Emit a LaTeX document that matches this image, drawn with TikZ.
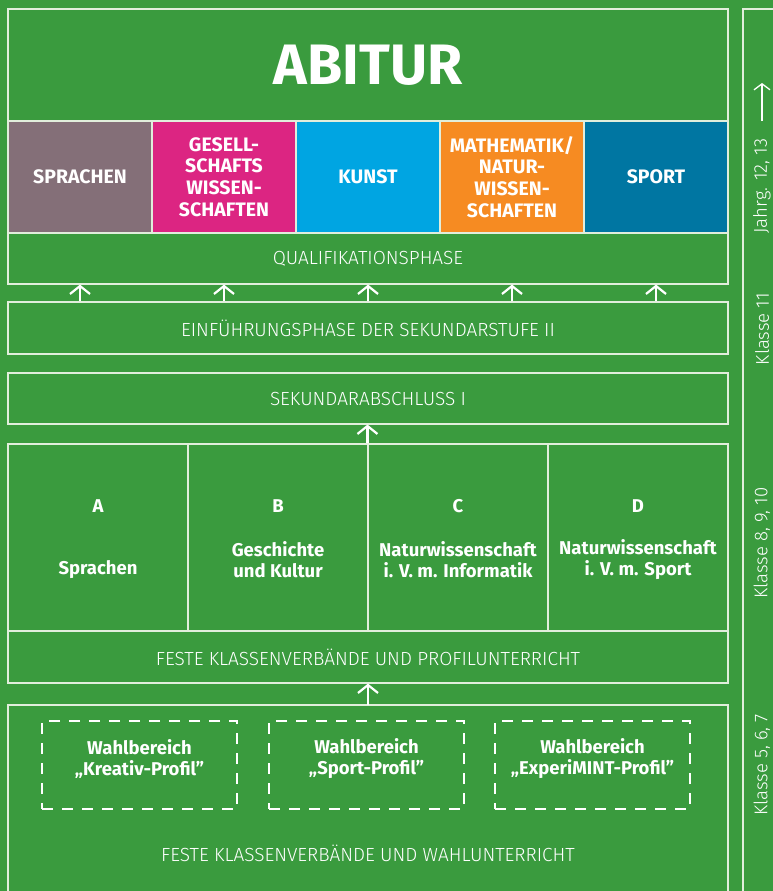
\documentclass[tikz,border=0pt]{standalone}
\usepackage{fontspec}
\setmainfont{Fira Sans}
\newfontfamily\lightfont{Fira Sans Light}
\usetikzlibrary{arrows.meta}
\definecolor{bg}{RGB}{58,155,62}
\definecolor{linec}{RGB}{225,238,220}
\definecolor{csprachen}{RGB}{132,111,120}
\definecolor{cgesell}{RGB}{220,37,130}
\definecolor{ckunst}{RGB}{0,165,226}
\definecolor{cmathe}{RGB}{246,139,34}
\definecolor{csport}{RGB}{0,118,162}
\begin{document}
\begin{tikzpicture}[x=1pt,y=-1pt,
  box/.style={draw=linec, line width=1.1pt, inner sep=0pt, text=white},
  wide/.style={box, minimum width=720pt},
  lbl/.style={font=\lightfont\fontsize{19}{22}\selectfont},
  subj/.style={box, minimum width=144pt, minimum height=112pt, align=center,
     font=\bfseries\fontsize{19.5}{21.7}\selectfont},
  prof/.style={box, minimum width=180pt, minimum height=187pt},
  ptext/.style={text=white, align=center, font=\bfseries\fontsize{18.5}{21}\selectfont},
  wahl/.style={draw=white, line width=2pt, dash pattern=on 11pt off 9pt,
     minimum width=195pt, minimum height=88pt, inner sep=0pt},
  side/.style={text=white, rotate=90, font=\lightfont\fontsize{18.5}{20}\selectfont},
  uparrow/.style={draw=white, line width=2.2pt, -{Straight Barb[length=8pt,width=20pt]}},
  thinarrow/.style={draw=white, line width=1.3pt, -{Straight Barb[length=6pt,width=16pt]}}
]
\useasboundingbox (0,0) rectangle (773,891);
\fill[bg] (0,0) rectangle (773,891);

% top block
\node[wide, minimum height=112pt, font=\bfseries\fontsize{57}{66}\selectfont] (abitur) at (368,65) {ABITUR};
\node[subj, fill=csprachen] (s1) at (80,177) {SPRACHEN};
\node[subj, fill=cgesell] (s2) at (224,177) {GESELL-\\SCHAFTS\\WISSEN-\\SCHAFTEN};
\node[subj, fill=ckunst] (s3) at (368,177) {KUNST};
\node[subj, fill=cmathe] (s4) at (512,177) {MATHEMATIK/\\NATUR-\\WISSEN-\\SCHAFTEN};
\node[subj, fill=csport] (s5) at (656,177) {SPORT};
\node[wide, minimum height=51pt, lbl] (quali) at (368,258.5) {QUALIFIKATIONSPHASE};

\node[wide, minimum height=52pt, lbl] (ein) at (368,328) {EINFÜHRUNGSPHASE DER SEKUNDARSTUFE II};
\node[wide, minimum height=51pt, lbl] (sek) at (368,398.5) {SEKUNDARABSCHLUSS I};

\foreach \i in {1,...,5}{
  \draw[uparrow] (ein.north -| s\i) -- (quali.south -| s\i);
}

% profiles
\node[prof] (pA) at (98,537.5) {};
\node[prof] (pB) at (278,537.5) {};
\node[prof] (pC) at (458,537.5) {};
\node[prof] (pD) at (638,537.5) {};
\foreach \n/\l in {pA/A,pB/B,pC/C,pD/D}{
  \node[ptext] (l\n) at (\n |- 0,506) {\l};
}
\node[ptext] (tA) at (98,570) {Sprachen};
\node[ptext] (tB) at (278,559.5) {Geschichte\\und Kultur};
\node[ptext] (tC) at (458,559.5) {Naturwissenschaft\\i. V. m. Informatik};
\node[ptext] (tD) at (638,559.5) {Naturwissenschaft\\i. V. m. Sport};
\draw[uparrow] (pC.north west) -- (sek.south -| pC.west);

\node[wide, minimum height=52pt, lbl] (feste) at (368,657) {FESTE KLASSENVERBÄNDE UND PROFILUNTERRICHT};

% bottom block
\draw[draw=linec, line width=1.1pt] (8,905) -- (8,705) coordinate (bl) -- (728,705) coordinate (br) -- (728,905);
\coordinate (bmid) at (368,705);
\draw[uparrow] (bmid) -- (feste.south -| bmid);
\node[wahl] (w1) at (139.5,765) {};
\node[wahl] (w2) at (366.5,765) {};
\node[wahl] (w3) at (592.5,765) {};
\node[ptext] (tw1) at (139.5,759) {Wahlbereich\\„Kreativ-Profil"};
\node[ptext] (tw2) at (366.5,759) {Wahlbereich\\„Sport-Profil"};
\node[ptext] (tw3) at (592.5,759) {Wahlbereich\\„ExperiMINT-Profil"};
\node[lbl, text=white] (wahlu) at (368,853) {FESTE KLASSENVERBÄNDE UND WAHLUNTERRICHT};

% sidebar
\draw[draw=linec, line width=1.1pt] (743,905) -- (743,9) -- (785,9);
\node[side] (jahrg) at (762,186) {Jahrg. 12, 13};
\coordinate (jbase) at (762,121);
\coordinate (jtip) at (762,83);
\draw[thinarrow] (jbase) -- (jtip);
\node[side] (k11) at (762,329) {Klasse 11};
\node[side] (k8) at (762,543) {Klasse 8, 9, 10};
\node[side] (k5) at (762,765) {Klasse 5, 6, 7};
\end{tikzpicture}
\end{document}
